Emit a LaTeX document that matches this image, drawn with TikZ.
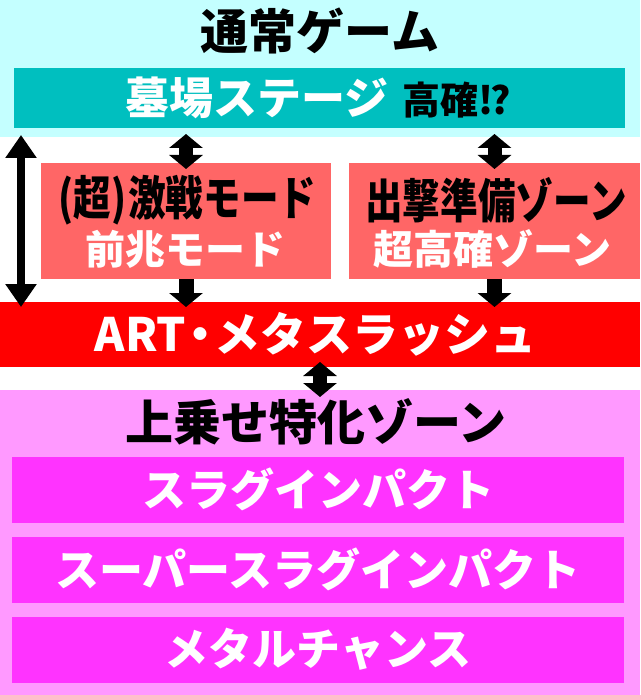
\documentclass[tikz,border=0pt]{standalone}
\usepackage{fontspec}
\setmainfont{Noto Sans CJK JP}
\newfontfamily\jpcond{Noto Sans CJK JP}[FakeStretch=0.8]
\usetikzlibrary{arrows.meta}
\definecolor{normalbg}{HTML}{C4FFFF}
\definecolor{stagecol}{HTML}{00BFBF}
\definecolor{modecol}{HTML}{FF6666}
\definecolor{artcol}{HTML}{FF0000}
\definecolor{zonebg}{HTML}{FF99FF}
\definecolor{zonecol}{HTML}{FF33FF}

\begin{document}
\begin{tikzpicture}[x=1pt,y=-1pt,
  panel/.style={inner sep=0pt,outer sep=0pt,draw=none},
  heading/.style={inner sep=0pt,font=\bfseries\fontsize{48}{48}\selectfont},
  condtxt/.style={inner sep=0pt,font=\jpcond\bfseries\fontsize{47}{47}\selectfont},
  subtxt/.style={inner sep=0pt,text=white,font=\bfseries\fontsize{40}{40}\selectfont},
  boxtxt/.style={inner sep=0pt,text=white,font=\bfseries\fontsize{44}{44}\selectfont},
  longarrow/.style={line width=8pt,{Triangle[width=30pt,length=23pt]}-{Triangle[width=30pt,length=23pt]}},
  dblarrow/.style={line width=14pt,{Triangle[width=33pt,length=14pt]}-{Triangle[width=33pt,length=14pt]}},
  downarrow/.style={line width=15pt,-{Triangle[width=33pt,length=14pt]}}]

\useasboundingbox (0,0) rectangle (640,695);

\node[panel,fill=normalbg,minimum width=640pt,minimum height=137pt] (normal) at (320,68.5) {};
\node[panel,fill=zonebg,minimum width=640pt,minimum height=305pt] (zone) at (320,542.5) {};

\node[heading] (normaltitle) at (320,31) {通常ゲーム};
\node[panel,fill=stagecol,minimum width=611pt,minimum height=60pt] (stage) at (319,98) {};
\node[inner sep=0pt] (stagetxt) at (318,98)
  {\bfseries{\color{white}\fontsize{44}{44}\selectfont 墓場ステージ}\hspace{14pt}{\fontsize{38}{38}\selectfont 高確!\kern-3pt?}};

\node[panel,fill=modecol,minimum width=290pt,minimum height=116pt] (battle) at (186,221) {};
\node[panel,fill=modecol,minimum width=291pt,minimum height=116pt] (sortie) at (494.5,221) {};
\node[condtxt] (battletxt) at (187.5,200) {(超)\kern2pt 激戦モード};
\node[subtxt] (battlesub) at (185,249) {前兆モード};
\node[condtxt] (sortietxt) at (496,200) {出撃準備ゾーン};
\node[subtxt] (sortiesub) at (492.5,249) {超高確ゾーン};

\node[panel,fill=artcol,minimum width=640pt,minimum height=65pt] (art) at (320,334.5) {};
\node[boxtxt,font=\bfseries\fontsize{46}{46}\selectfont] (arttxt) at (315.5,334) {ART\kern-9pt・\kern-9pt メタスラッシュ};

\node[heading] (zonetitle) at (316,422) {上乗せ特化ゾーン};
\node[panel,fill=zonecol,minimum width=612pt,minimum height=66pt] (slug) at (318,490) {};
\node[panel,fill=zonecol,minimum width=612pt,minimum height=66pt] (superslug) at (318,570) {};
\node[panel,fill=zonecol,minimum width=612pt,minimum height=66pt] (chance) at (318,650) {};
\node[boxtxt] (slugtxt) at (318,489) {スラグインパクト};
\node[boxtxt] (superslugtxt) at (318,569) {スーパースラグインパクト};
\node[boxtxt] (chancetxt) at (318,649) {メタルチャンス};

\coordinate (leftx) at (21,0);
\draw[longarrow,shorten <=-2pt,shorten >=-5pt] (normal.south -| leftx) -- (art.north -| leftx);
\draw[dblarrow,shorten <=6pt,shorten >=-6pt] (stage.south -| battle) -- (battle.north);
\draw[dblarrow,shorten <=6pt,shorten >=-6pt] (stage.south -| sortie) -- (sortie.north);
\draw[downarrow,shorten >=-5pt] (battle.south) -- (art.north -| battle);
\draw[downarrow,shorten >=-5pt] (sortie.south) -- (art.north -| sortie);
\draw[dblarrow,shorten <=-5pt,shorten >=-7pt] (art.south) -- (zone.north);
\end{tikzpicture}
\end{document}
